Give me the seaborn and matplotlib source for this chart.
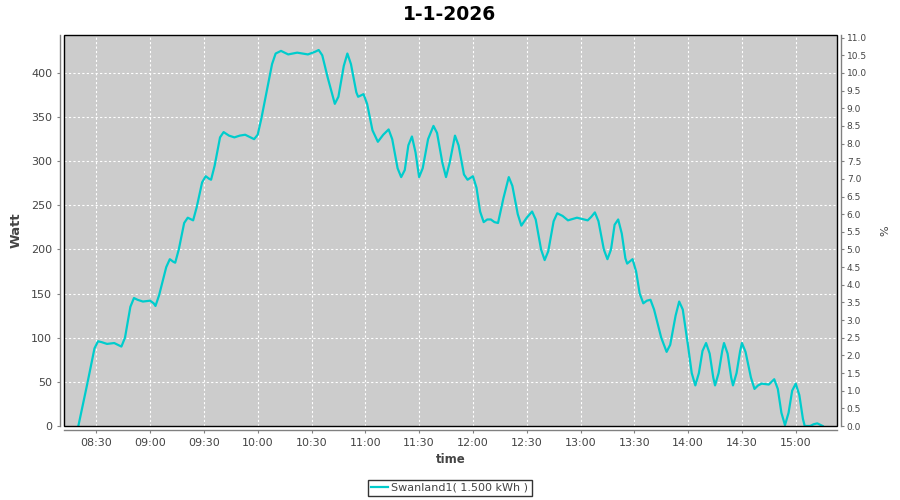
import pandas as pd
import matplotlib
matplotlib.use("Agg")
import matplotlib.pyplot as plt
import matplotlib.dates as mdates
from matplotlib.patches import Rectangle
import seaborn as sns

# readings taken off the chart (time of day, watt)
times = ["08:20", "08:25", "08:29", "08:31", "08:33", "08:36", "08:40", "08:43",
         "08:44", "08:46", "08:49", "08:51", "08:53", "08:56", "09:00", "09:02",
         "09:03", "09:05", "09:09", "09:11", "09:13", "09:14", "09:16", "09:19",
         "09:21", "09:23", "09:24", "09:26", "09:29", "09:31", "09:33", "09:34",
         "09:36", "09:39", "09:41", "09:44", "09:47", "09:50", "09:53", "09:56",
         "09:58", "10:00", "10:02", "10:05", "10:08", "10:10", "10:13", "10:17",
         "10:22", "10:28", "10:32", "10:34", "10:36", "10:39", "10:43", "10:45",
         "10:48", "10:50", "10:52", "10:55", "10:56", "10:59", "11:01", "11:04",
         "11:07", "11:10", "11:13", "11:15", "11:18", "11:20", "11:22", "11:24",
         "11:26", "11:28", "11:30", "11:32", "11:35", "11:38", "11:40", "11:43",
         "11:45", "11:47", "11:50", "11:52", "11:55", "11:57", "12:00", "12:02",
         "12:04", "12:06", "12:08", "12:10", "12:12", "12:14", "12:17", "12:20",
         "12:22", "12:25", "12:27", "12:30", "12:33", "12:35", "12:38", "12:40",
         "12:42", "12:45", "12:47", "12:50", "12:53", "12:58", "13:04", "13:06",
         "13:08", "13:10", "13:13", "13:15", "13:17", "13:19", "13:21", "13:23",
         "13:25", "13:26", "13:29", "13:31", "13:33", "13:35", "13:37", "13:39",
         "13:41", "13:45", "13:48", "13:50", "13:53", "13:55", "13:57", "14:00",
         "14:02", "14:04", "14:06", "14:08", "14:10", "14:12", "14:14", "14:15",
         "14:17", "14:19", "14:20", "14:22", "14:24", "14:25", "14:27", "14:29",
         "14:30", "14:32", "14:35", "14:37", "14:39", "14:41", "14:45", "14:48",
         "14:50", "14:52", "14:54", "14:56", "14:58", "15:00", "15:02", "15:04",
         "15:05", "15:08", "15:10", "15:12", "15:14", "15:15"]
watt = [0, 48, 88, 96, 95, 93, 94, 91,
        90, 100, 135, 145, 143, 141, 142, 139,
        136, 148, 180, 189, 186, 185, 200, 230,
        236, 234, 233, 248, 276, 283, 280, 279,
        295, 327, 333, 329, 327, 329, 330, 327,
        325, 330, 348, 379, 410, 422, 425, 421,
        423, 421, 424, 426, 420, 395, 365, 373,
        408, 422, 410, 378, 373, 376, 365, 335,
        322, 330, 336, 325, 292, 282, 290, 318,
        328, 310, 282, 292, 325, 340, 332, 298,
        282, 298, 329, 318, 285, 279, 283, 270,
        243, 231, 234, 234, 231, 230, 258, 282,
        272, 240, 227, 236, 243, 234, 200, 188,
        198, 232, 241, 238, 233, 236, 233, 237,
        242, 232, 200, 189, 200, 228, 234, 218,
        190, 184, 189, 175, 150, 139, 142, 143,
        132, 100, 84, 92, 125, 141, 132, 90,
        60, 46, 60, 85, 94, 82, 55, 46,
        60, 85, 94, 82, 55, 46, 60, 85,
        94, 84, 55, 42, 46, 48, 47, 53,
        42, 15, 1, 15, 40, 48, 35, 8,
        0, 0, 2, 3, 1, 0]

series_name = "Swanland1( 1.500 kWh )"
title = "1-1-2026"

df = pd.DataFrame({"time": pd.to_datetime(["2026-01-01 " + t for t in times]),
                   "watt": watt})

grey = "#808080"
txt = "#444444"

fig = plt.figure(figsize=(9, 5), dpi=100)
ax = fig.add_axes([64 / 900, 74 / 500, 773 / 900, 391 / 500])
ax.set_facecolor("#CCCCCC")

sns.lineplot(data=df, x="time", y="watt", ax=ax, color="#00CCCC", linewidth=1.6,
             label=series_name, legend=False)

ax.set_ylim(0, 443)
ax.set_yticks(range(0, 401, 50))
ax.set_xlim(pd.Timestamp("2026-01-01 08:12"), pd.Timestamp("2026-01-01 15:23"))
ax.xaxis.set_major_locator(mdates.MinuteLocator(byminute=[0, 30]))
ax.xaxis.set_major_formatter(mdates.DateFormatter("%H:%M"))
ax.grid(True, color="white", linestyle=(0, (2, 2)), linewidth=0.8)
ax.set_axisbelow(True)

ax2 = ax.twinx()
ax2.set_ylim(0, 443 / 40)
ax2.set_yticks([i * 0.5 for i in range(23)])
ax2.set_yticklabels([f"{i * 0.5:.1f}" for i in range(23)])

for a in (ax, ax2):
    for s in a.spines.values():
        s.set_visible(False)
    a.tick_params(colors=grey, labelcolor=txt, length=2, width=0.8)

ax.spines["left"].set_visible(True)
ax.spines["bottom"].set_visible(True)
ax2.spines["right"].set_visible(True)
for s in (ax.spines["left"], ax.spines["bottom"], ax2.spines["right"]):
    s.set_position(("outward", 3))
    s.set_color(grey)
    s.set_linewidth(1)

ax.tick_params(axis="y", labelsize=8)
ax.tick_params(axis="x", labelsize=8)
ax2.tick_params(axis="y", labelsize=6.5, pad=2)

ax2.add_patch(Rectangle((0, 0), 1, 1, transform=ax2.transAxes, fill=False,
                        edgecolor="black", linewidth=1, zorder=10, clip_on=False))

ax.set_xlabel("time", fontsize=8.5, fontweight="bold", color=txt, labelpad=4)
ax.set_ylabel("Watt", fontsize=9.5, fontweight="bold", color=txt, labelpad=6)
ax2.set_ylabel("%", fontsize=8, color=txt, labelpad=10)

fig.suptitle(title, x=0.5, y=0.97, va="center", fontsize=13.5,
             fontweight="bold", color="black")

handles, labels = ax.get_legend_handles_labels()
leg = fig.legend(handles, labels, loc="center", bbox_to_anchor=(0.5, 0.024),
                 frameon=True, fancybox=False, edgecolor="black", fontsize=8,
                 handlelength=1.5, handletextpad=0.3, borderpad=0.3,
                 borderaxespad=0)
leg.get_frame().set_linewidth(1)
for t in leg.get_texts():
    t.set_color(txt)

fig.savefig("out.png", dpi=100)
